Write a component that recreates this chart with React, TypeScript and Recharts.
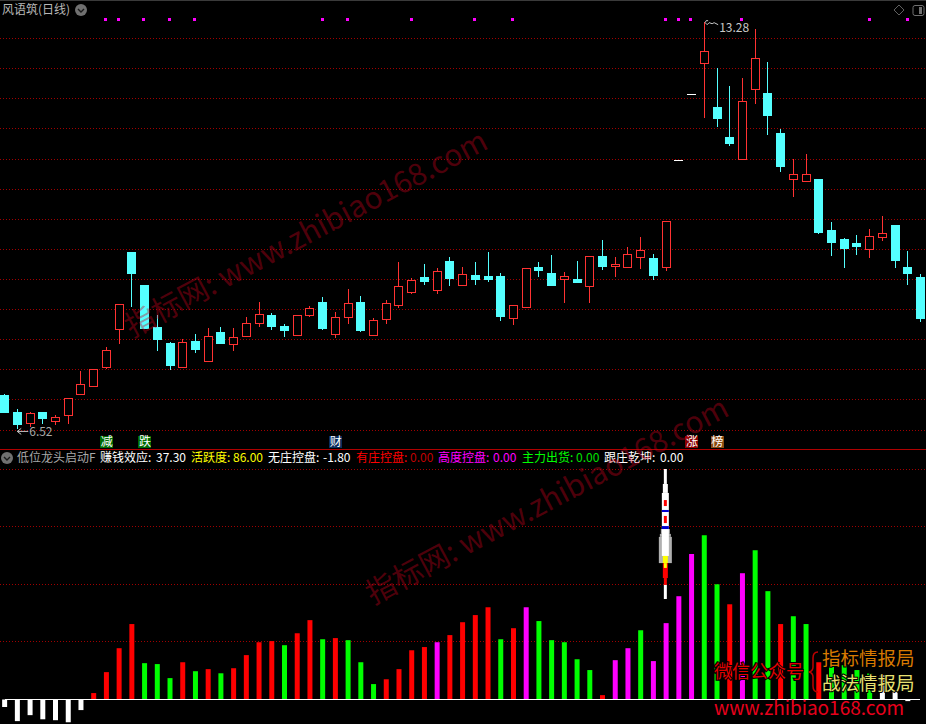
import React from 'react';
import {
  Bar,
  CartesianGrid,
  Cell,
  ComposedChart,
  Line,
  ReferenceArea,
  ReferenceDot,
  ReferenceLine,
  XAxis,
  YAxis,
} from 'recharts';

const opens = [7.08, 6.80, 6.62, 6.80, 6.65, 6.76, 7.09, 7.22, 7.55, 8.17, 9.46, 8.91, 8.21, 7.95, 7.56, 7.98, 7.64, 8.13, 7.92, 8.05, 8.27, 8.41, 8.23, 8.07, 8.40, 8.63, 8.08, 8.38, 8.63, 8.07, 8.35, 8.57, 8.80, 9.04, 8.83, 9.31, 8.91, 9.08, 9.06, 9.06, 8.35, 8.55, 9.21, 9.11, 9.00, 9.01, 8.90, 9.39, 9.22, 9.20, 9.38, 9.36, 9.20, 10.98, 12.08, 12.60, 11.86, 11.37, 10.99, 12.15, 12.10, 11.43, 10.67, 10.64, 10.67, 9.82, 9.67, 9.61, 9.50, 9.71, 9.91, 9.21, 9.04];
const highs = [7.10, 6.85, 6.80, 6.80, 6.75, 7.04, 7.48, 7.51, 7.88, 8.59, 9.46, 8.91, 8.41, 7.96, 8.01, 8.10, 8.20, 8.21, 8.20, 8.38, 8.63, 8.44, 8.26, 8.41, 8.56, 8.71, 8.46, 8.84, 8.73, 8.36, 8.66, 9.29, 9.03, 9.26, 9.19, 9.37, 9.21, 9.29, 9.46, 9.11, 8.57, 9.19, 9.29, 9.41, 9.13, 9.31, 9.39, 9.66, 9.37, 9.54, 9.71, 9.42, 9.97, 10.98, 12.08, 13.28, 12.51, 12.21, 12.35, 13.16, 12.61, 11.50, 11.00, 11.08, 10.67, 9.96, 9.69, 9.74, 9.84, 10.05, 9.91, 9.47, 9.09];
const lows = [6.78, 6.52, 6.55, 6.60, 6.59, 6.60, 7.09, 7.22, 7.51, 7.93, 8.54, 8.18, 7.81, 7.50, 7.55, 7.78, 7.64, 7.93, 7.81, 8.05, 8.21, 8.16, 8.05, 8.07, 8.38, 8.16, 8.03, 8.26, 8.13, 8.07, 8.26, 8.53, 8.76, 8.91, 8.76, 8.89, 8.91, 8.91, 8.96, 8.31, 8.25, 8.55, 9.04, 8.89, 8.61, 8.94, 8.61, 9.16, 9.04, 9.20, 9.18, 8.99, 9.14, 10.98, 12.08, 11.68, 11.53, 11.22, 10.99, 11.91, 11.40, 10.79, 10.37, 10.64, 9.76, 9.39, 9.19, 9.41, 9.36, 9.64, 9.19, 8.91, 8.30];
const closes = [6.78, 6.59, 6.78, 6.68, 6.71, 7.04, 7.26, 7.51, 7.83, 8.59, 9.10, 8.18, 8.00, 7.56, 7.97, 7.83, 8.06, 7.93, 8.04, 8.27, 8.42, 8.21, 8.15, 8.41, 8.52, 8.18, 8.37, 8.61, 8.15, 8.32, 8.61, 8.89, 9.00, 8.96, 9.14, 9.01, 9.09, 8.99, 8.99, 8.38, 8.57, 9.19, 9.14, 8.89, 9.05, 8.94, 9.39, 9.21, 9.26, 9.42, 9.49, 9.06, 9.97, 10.98, 12.08, 12.80, 11.66, 11.25, 11.96, 12.67, 11.71, 10.87, 10.75, 10.75, 9.77, 9.61, 9.51, 9.54, 9.72, 9.78, 9.32, 9.09, 8.34];

const flowValues = [-3.3, -9.4, -6.8, -8.6, -9.0, -9.9, -4.6, 2.8, 11.9, 22.3, 32.8, 15.8, 15.4, 9.3, 16.2, 12.3, 13.2, 11.4, 13.6, 19.3, 24.9, 25.4, 23.6, 28.8, 34.5, 26.2, 26.7, 25.8, 16.2, 6.7, 8.8, 13.2, 21.4, 22.8, 24.9, 28.0, 33.6, 36.7, 40.1, 26.2, 31.0, 40.1, 34.1, 25.8, 24.9, 17.5, 12.8, 1.9, 17.1, 22.3, 30.1, 16.7, 33.2, 44.9, 63.2, 71.4, 50.1, 41.4, 54.9, 64.9, 47.1, 32.8, 36.2, 32.8, 16.2, 14.5, 14.9, 12.8, 11.3, 10.6, 4.1, -0.7, -9.4];
// w = white, r = red, g = green, m = magenta
const flowKinds = 'wwwwwwwrrrrgggrgrgrrrrgrrgrgggrrrrmrrrrgrmgggggrmmgmmmmggrmggrggrggggwww'.slice(0, 73).split('');
flowKinds[0] = 'w';

const signalDays = [8, 9, 11, 13, 15, 25, 27, 32, 37, 40, 52, 53, 54, 58, 68, 71];
const priceTicks = [13, 12.5, 12, 11.5, 11, 10.5, 10, 9.5, 9, 8.5, 8, 7.5, 7, 6.5];
const flowTicks = [25, 50, 75, 100];

const badgeDays = [8, 11, 26, 54, 56];
const badgeTexts = ['减', '跌', '财', '涨', '榜'];
const badgeColors = ['#006a00', '#006a00', '#0a2c5c', '#8a0000', '#8a4a10'];

const priceData = opens.map((open, i) => ({
  i,
  open,
  close: closes[i],
  high: highs[i],
  low: lows[i],
  range: [lows[i], highs[i]],
  signal: signalDays.includes(i) ? 13.32 : null,
}));
const flowData = flowValues.map((value, i) => ({ i, value }));

const FLOW_COLORS: Record<string, string> = { w: '#ffffff', r: '#ff0000', g: '#00ff00', m: '#ff00ff' };
const RED = '#ff3232';
const CYAN = '#54ffff';
const GRID = '#a00000';
const CJK = '"Noto Sans CJK SC", "Liberation Sans", sans-serif';
const X_DOMAIN = [-0.354, 72.44];
const PX_PER_DAY = 926 / (X_DOMAIN[1] - X_DOMAIN[0]);

// rocket drawn over day 52: bottom, top, width in px, colour
const rocketParts: Array<[number, number, number, string]> = [
  [59.3, 70.7, 13, '#b0b0b0'],
  [70.7, 72, 11, '#b0b0b0'],
  [72, 74.1, 9, '#b0b0b0'],
  [62.4, 89.8, 7, '#ffffff'],
  [89.8, 93.7, 5, '#ffffff'],
  [93.7, 100.2, 3, '#ffffff'],
  [84.1, 86.7, 3, '#ff0000'],
  [76.7, 79.8, 3, '#ff0000'],
  [81.5, 82.4, 7, '#0000d0'],
  [74.1, 75.4, 7, '#0000d0'],
  [59.3, 62.4, 5, '#ffff00'],
  [52.8, 59.3, 5, '#ff0000'],
  [57.2, 59.3, 3, '#ffff00'],
  [49.8, 52.8, 3, '#ff0000'],
  [43.7, 49.8, 3, '#ffffff'],
];

const headerItems: Array<[number, string, string]> = [
  [17, '低位龙头启动F', '#a8a8a8'],
  [100, '赚钱效应:', '#ffffff'],
  [156, '37.30', '#ffffff'],
  [191, '活跃度:', '#ffff00'],
  [233, '86.00', '#ffff00'],
  [268, '无庄控盘:', '#ffffff'],
  [323, '-1.80', '#ffffff'],
  [356, '有庄控盘:', '#ff0000'],
  [410, '0.00', '#c00000'],
  [438, '高度控盘:', '#ff00ff'],
  [493, '0.00', '#ff00ff'],
  [522, '主力出货:', '#00ff00'],
  [576, '0.00', '#00e000'],
  [604, '跟庄乾坤:', '#ffffff'],
  [660, '0.00', '#ffffff'],
];

const Candle = (props: any) => {
  const { x, y, width, height, payload } = props;
  const { open, close, high, low } = payload;
  const left = Math.round(x);
  const mid = left + Math.floor(width / 2) + 0.5;
  if (high === low) {
    return <rect x={left} y={Math.round(y)} width={width} height={1} fill="#ffffff" />;
  }
  const perPrice = height / (high - low);
  const top = y + (high - Math.max(open, close)) * perPrice;
  const bodyHeight = Math.abs(open - close) * perPrice;
  const up = close >= open;
  const color = up ? RED : CYAN;
  return (
    <g shapeRendering="crispEdges">
      <line x1={mid} x2={mid} y1={y} y2={y + height} stroke={color} />
      {up ? (
        <rect
          x={left + 0.5}
          y={Math.round(top) + 0.5}
          width={width - 1}
          height={Math.max(Math.round(bodyHeight), 1)}
          fill="#000000"
          stroke={color}
        />
      ) : (
        <rect x={left} y={Math.round(top)} width={width} height={Math.max(Math.round(bodyHeight), 1)} fill={color} />
      )}
    </g>
  );
};

const SignalDot = (props: any) => {
  if (props.payload.signal == null) return <g key={props.index} />;
  return (
    <rect
      key={props.index}
      x={Math.round(props.cx) - 2}
      y={Math.round(props.cy) - 1}
      width={3}
      height={3}
      fill="#ff00ff"
    />
  );
};

const badge = (text: string, color: string) => (props: any) => (
  <g>
    <rect x={Math.round(props.cx) - 6} y={Math.round(props.cy) - 6} width={13} height={13} fill={color} />
    <text x={props.cx + 0.5} y={props.cy + 4.5} textAnchor="middle" fontSize={12} fontFamily={CJK} fill="#ffffff">
      {text}
    </text>
  </g>
);

const HighMark = (props: any) => (
  <g>
    <path
      d={`M${props.cx + 4} ${props.cy - 1} l-2 0 l-1 2 l2 2 l2 -2 l3 1 l2 -1 l4 2`}
      fill="none"
      stroke="#c8c8c8"
    />
    <text x={props.cx + 15} y={props.cy + 10} fontSize={12} fontFamily={CJK} fill="#c8c8c8">
      13.28
    </text>
  </g>
);

const LowMark = (props: any) => (
  <g>
    <path
      d={`M${props.cx + 11} ${props.cy + 2.5} h-11 l4 -3 m-4 3 l4 3`}
      fill="none"
      stroke="#c8c8c8"
    />
    <text x={props.cx + 12} y={props.cy + 7} fontSize={12} fontFamily={CJK} fill="#a8a8a8">
      6.52
    </text>
  </g>
);

const Chevron = ({ cx, cy }: { cx: number; cy: number }) => (
  <g>
    <circle cx={cx} cy={cy} r={6} fill="#707070" />
    <path d={`M${cx - 3} ${cy - 1} l3 3 l3 -3`} fill="none" stroke="#1a1a1a" strokeWidth={1.4} />
  </g>
);

export default function App() {
  return (
    <div style={{ position: 'absolute', left: 0, top: 0, width: 926, height: 724, background: '#000000', overflow: 'hidden' }}>
      <div style={{ position: 'absolute', left: 0, top: 0 }}>
        <ComposedChart width={926} height={448} data={priceData} margin={{ top: 0, right: 0, bottom: 0, left: 0 }}>
          <CartesianGrid
            vertical={false}
            horizontalValues={priceTicks}
            stroke={GRID}
            strokeDasharray="1 2"
            shapeRendering="crispEdges"
          />
          <XAxis dataKey="i" type="number" domain={X_DOMAIN} hide allowDataOverflow />
          <YAxis type="number" domain={[6.203, 13.64]} ticks={priceTicks} hide allowDataOverflow />
          <Bar dataKey="range" barSize={9} shape={Candle} isAnimationActive={false} />
          <Line
            dataKey="signal"
            stroke="none"
            dot={SignalDot}
            activeDot={false}
            legendType="none"
            isAnimationActive={false}
          />
          {badgeDays.map((day, k) => (
            <ReferenceDot key={day} x={day} y={6.31} r={0} shape={badge(badgeTexts[k], badgeColors[k])} />
          ))}
          <ReferenceDot x={55} y={13.28} r={0} shape={HighMark} />
          <ReferenceDot x={1} y={6.52} r={0} shape={LowMark} />
        </ComposedChart>
      </div>

      <div style={{ position: 'absolute', left: 0, top: 449 }}>
        <ComposedChart width={926} height={275} data={flowData} margin={{ top: 0, right: 0, bottom: 0, left: 0 }}>
          <CartesianGrid
            vertical={false}
            horizontalValues={flowTicks}
            stroke={GRID}
            strokeDasharray="1 2"
            shapeRendering="crispEdges"
          />
          <XAxis dataKey="i" type="number" domain={X_DOMAIN} hide allowDataOverflow />
          <YAxis type="number" domain={[-10.65, 108.9]} ticks={flowTicks} hide allowDataOverflow />
          <Bar dataKey="value" barSize={5} isAnimationActive={false}>
            {flowData.map((_, index) => (
              <Cell key={`cell-${index}`} fill={FLOW_COLORS[flowKinds[index]]} />
            ))}
          </Bar>
          <ReferenceLine
            segment={[{ x: 0, y: 0 }, { x: 72, y: 0 }]}
            stroke="#ffffff"
            shapeRendering="crispEdges"
          />
          {rocketParts.map(([bottom, top, width, color], k) => (
            <ReferenceArea
              key={k}
              x1={52 - 0.05 - width / 2 / PX_PER_DAY}
              x2={52 - 0.05 + width / 2 / PX_PER_DAY}
              y1={bottom}
              y2={top}
              fill={color}
              fillOpacity={1}
              stroke="none"
            />
          ))}
        </ComposedChart>
      </div>

      <svg width={926} height={724} style={{ position: 'absolute', left: 0, top: 0, pointerEvents: 'none' }}>
        <rect x={0} y={0} width={926} height={1} fill="#3a3a3a" />
        <rect x={0} y={449} width={926} height={1} fill="#b00000" />
        <text x={2} y={14} fontSize={12} fontFamily={CJK} fill="#b8b8b8">风语筑(日线)</text>
        <Chevron cx={81} cy={10} />
        <path d="M899 5 l5 5 l-5 5 l-5 -5 z" fill="none" stroke="#606060" />
        <rect x={913} y={5.5} width={11} height={10} rx={2} fill="none" stroke="#707070" />
        <rect x={919} y={7} width={3} height={7} fill="#707070" />
        <Chevron cx={7} cy={458} />
        {headerItems.map(([x, label, color]) => (
          <text key={`${x}`} x={x} y={462} fontSize={12} fontFamily={CJK} fill={color}>{label}</text>
        ))}

        <g fontFamily={CJK} fontSize={30} fill="rgba(210,0,30,0.38)">
          <text transform="translate(132 338) rotate(-28)">指标网: www.zhibiao168.com</text>
          <text transform="translate(373 605) rotate(-28)">指标网: www.zhibiao168.com</text>
        </g>

        <g fontFamily={CJK} stroke="#000000" strokeWidth={2} paintOrder="stroke">
          <text x={714} y={678} fontSize={18} fill="#e00000">微信公众号</text>
          <text x={822} y={665} fontSize={18.5} fill="#d87a00">指标情报局</text>
          <text x={822} y={690} fontSize={18.5} fill="#e8e070">战法情报局</text>
          <text x={714} y={715} fontSize={19} fill="#e8001c" stroke="none">www.zhibiao168.com</text>
        </g>
        <path
          d="M818 652 q-5 0 -5 6 v9 q0 4 -4 5 q4 1 4 5 v9 q0 6 5 6"
          fill="none"
          stroke="#c00000"
          strokeWidth={1.5}
        />
      </svg>
    </div>
  );
}
